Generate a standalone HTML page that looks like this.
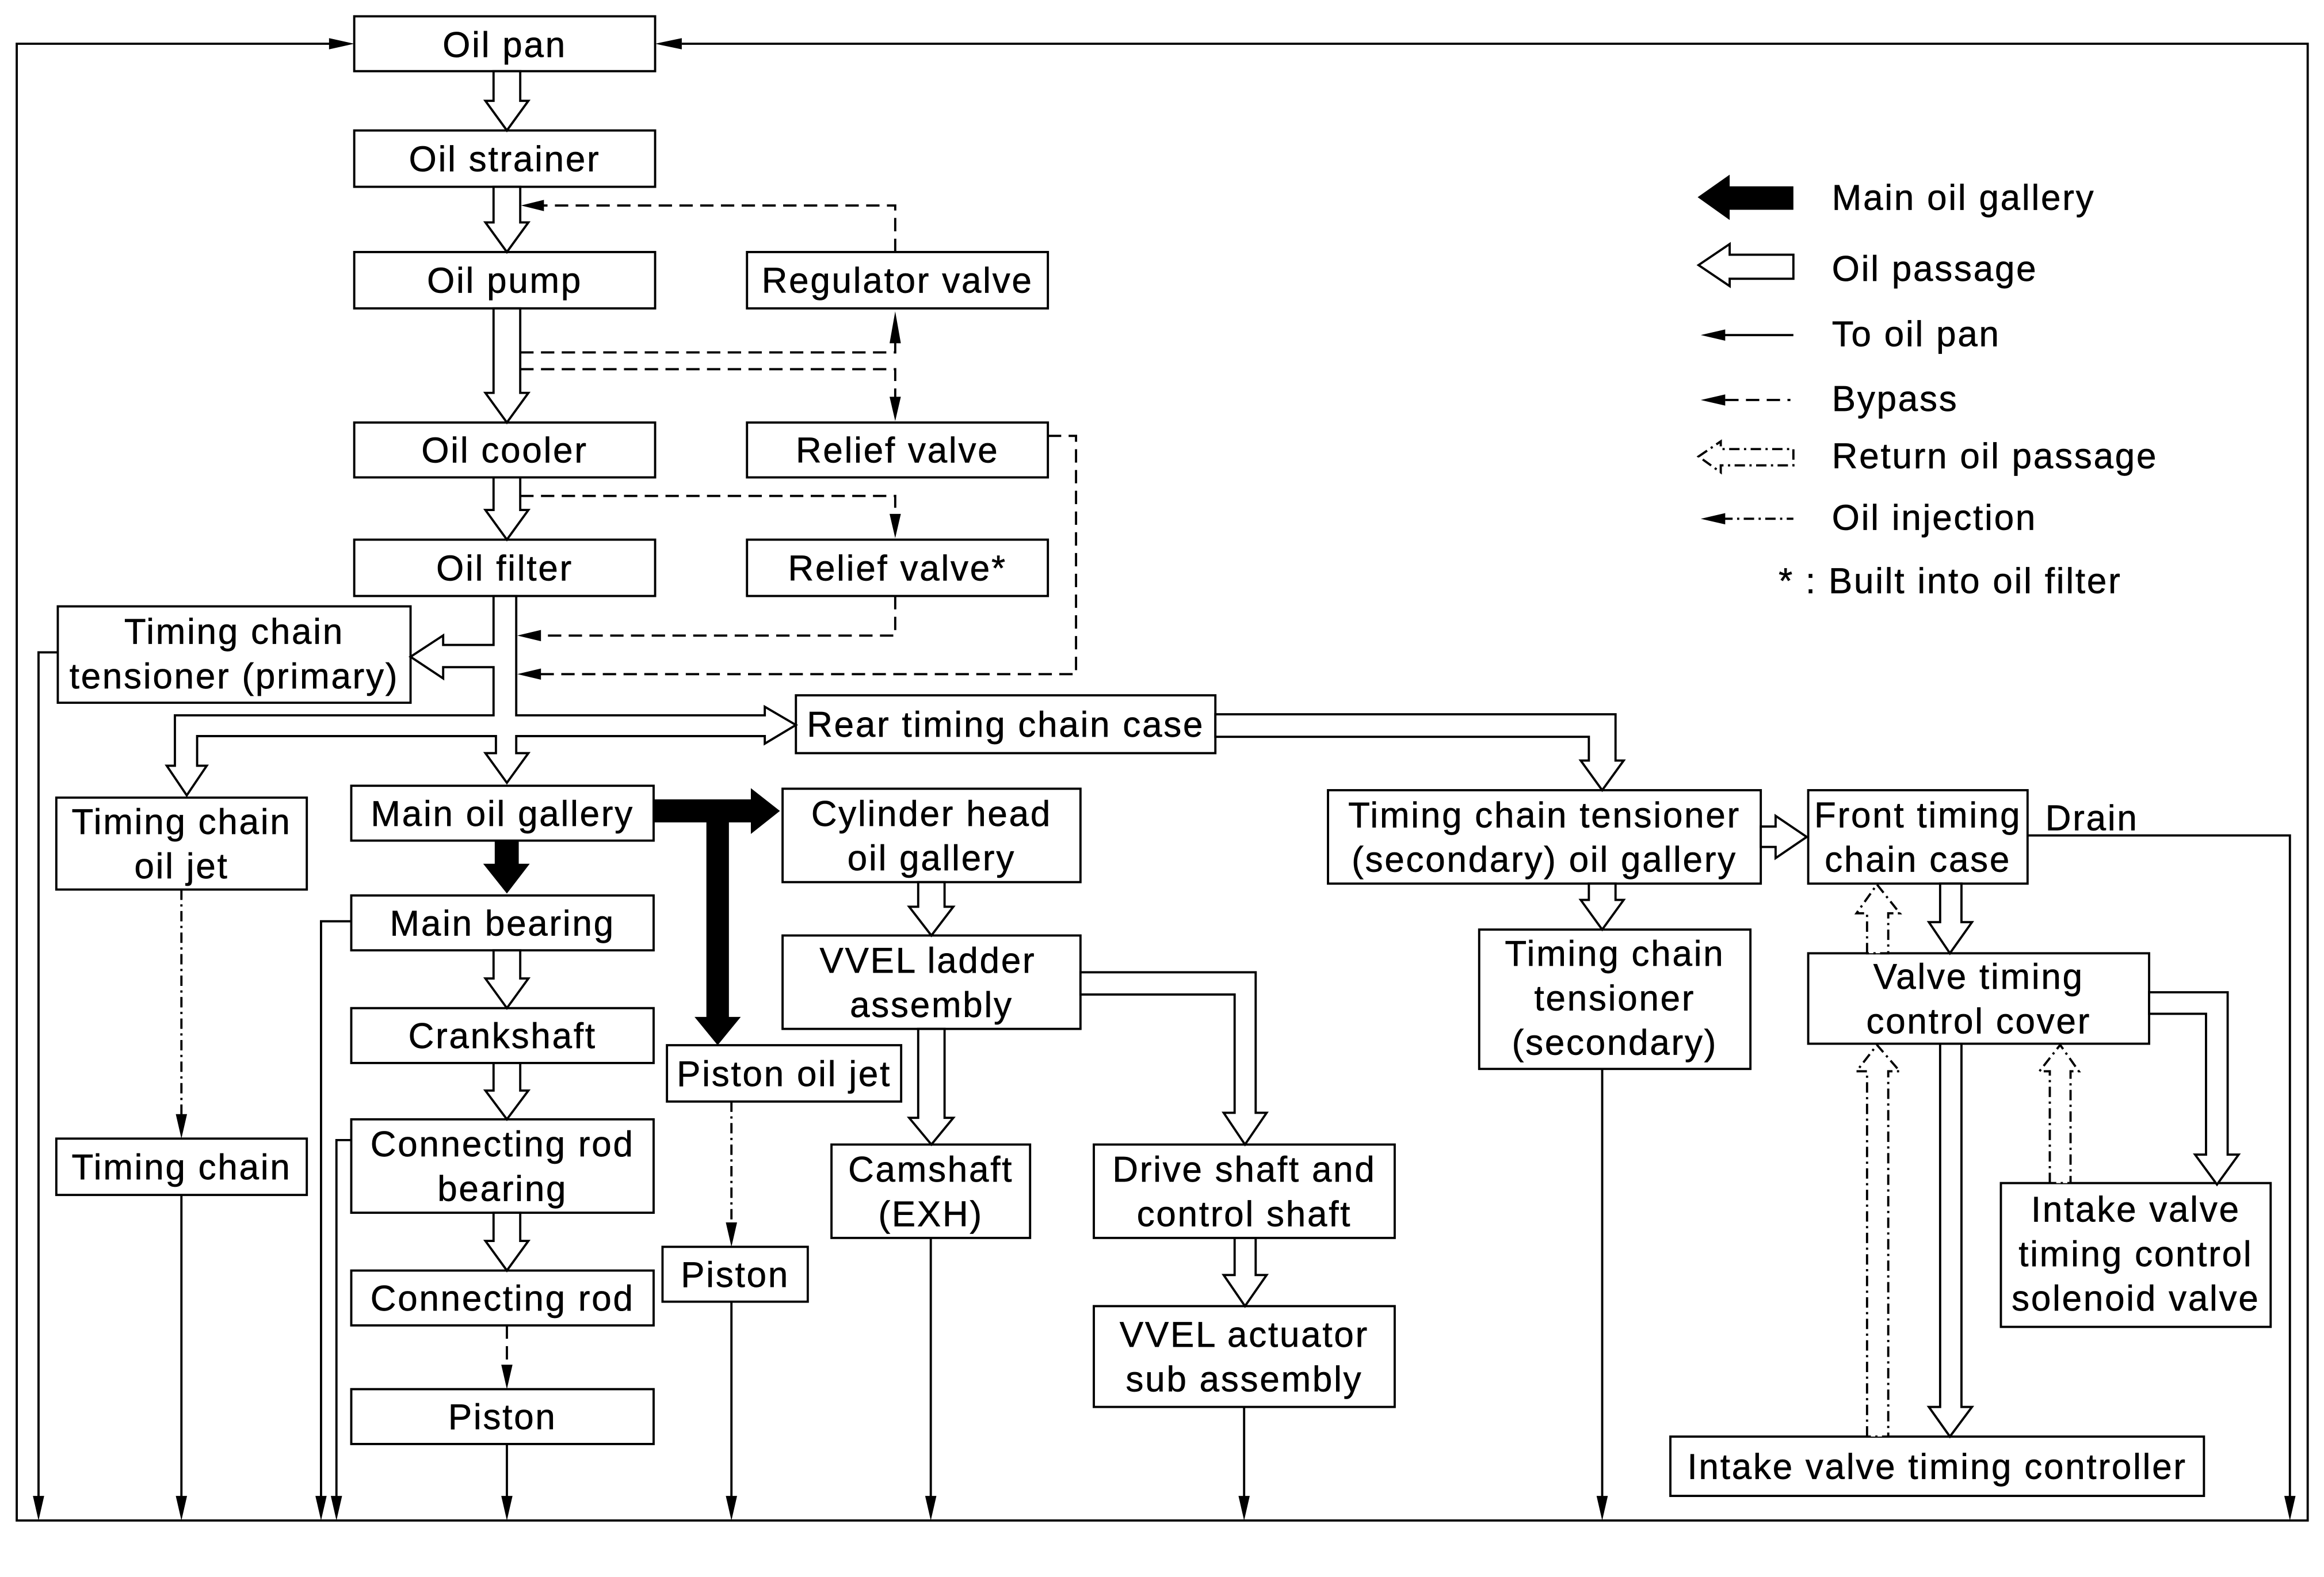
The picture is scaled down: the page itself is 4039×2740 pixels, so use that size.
<!DOCTYPE html>
<html><head><meta charset="utf-8"><style>
html,body{margin:0;padding:0;background:#fff;}
svg{display:block;}
text{font-family:"Liberation Sans",Arial,sans-serif;font-size:24px;letter-spacing:1.1px;fill:#000;stroke:#000;stroke-width:0.25;}
.b{fill:#fff;stroke:#000;stroke-width:1.5;}
.l{fill:none;stroke:#000;stroke-width:1.5;}
.d{fill:none;stroke:#000;stroke-width:1.5;stroke-dasharray:9 5;}
.dd{fill:none;stroke:#000;stroke-width:1.5;stroke-dasharray:7 3 1.5 3;}
.h{fill:#fff;stroke:#000;stroke-width:1.5;stroke-linejoin:miter;}
.r{fill:#fff;stroke:#000;stroke-width:1.5;stroke-dasharray:7 3 1.5 3;}
.k{fill:#000;stroke:none;}
</style></head><body>
<svg width="4039" height="2740" viewBox="0 0 1568 1063.7" xmlns="http://www.w3.org/2000/svg">
<rect x="0" y="0" width="1568" height="1064" fill="#fff"/>

<path class="l" d="M223,29.5 H11.3 V1025.6 H1557 V29.5 H460"/>
<polygon class="k" points="239,29.5 222,25.7 222,33.3"/>
<polygon class="k" points="442,29.5 460,25.7 460,33.3"/>

<rect class="b" x="239" y="11" width="203" height="37"/>
<rect class="b" x="239" y="88" width="203" height="38"/>
<rect class="b" x="239" y="170" width="203" height="38"/>
<rect class="b" x="504" y="170" width="203" height="38"/>
<rect class="b" x="239" y="285" width="203" height="37"/>
<rect class="b" x="504" y="285" width="203" height="37"/>
<rect class="b" x="239" y="364" width="203" height="38"/>
<rect class="b" x="504" y="364" width="203" height="38"/>
<rect class="b" x="39" y="409" width="238" height="65"/>
<rect class="b" x="537" y="469" width="283" height="39"/>
<rect class="b" x="38" y="538" width="169" height="62"/>
<rect class="b" x="237" y="530" width="204" height="37"/>
<rect class="b" x="528" y="532" width="201" height="63"/>
<rect class="b" x="237" y="604" width="204" height="37"/>
<rect class="b" x="528" y="631" width="201" height="63"/>
<rect class="b" x="237" y="680" width="204" height="37"/>
<rect class="b" x="450" y="705" width="158" height="38"/>
<rect class="b" x="237" y="755" width="204" height="63"/>
<rect class="b" x="38" y="768" width="169" height="38"/>
<rect class="b" x="561" y="772" width="134" height="63"/>
<rect class="b" x="738" y="772" width="203" height="63"/>
<rect class="b" x="237" y="857" width="204" height="37"/>
<rect class="b" x="447" y="841" width="98" height="37"/>
<rect class="b" x="738" y="881" width="203" height="68"/>
<rect class="b" x="237" y="937" width="204" height="37"/>
<rect class="b" x="896" y="533" width="292" height="63"/>
<rect class="b" x="1220" y="533" width="148" height="63"/>
<rect class="b" x="998" y="627" width="183" height="94"/>
<rect class="b" x="1220" y="643" width="230" height="61"/>
<rect class="b" x="1350" y="798" width="182" height="97"/>
<rect class="b" x="1127" y="969" width="360" height="40"/>

<polygon class="h" points="333,48 351,48 351,68 356.5,68 342,88 327.5,68 333,68"/>
<polygon class="h" points="333,126 351,126 351,150 356.5,150 342,170 327.5,150 333,150"/>
<polygon class="h" points="333,208 351,208 351,265 356.5,265 342,285 327.5,265 333,265"/>
<polygon class="h" points="333,322 351,322 351,344 356.5,344 342,364 327.5,344 333,344"/>
<polygon class="h" points="333,402 333,435 299,435 299,428.6 277,443 299,457.6 299,450 333,450 333,482.5 118,482.5 118,516.5 112.5,516.5 126,536.5 139.5,516.5 133,516.5 133,496.5 334.6,496.5 334.6,508 327.5,508 342,528 356.5,508 348.3,508 348.3,496.5 516,496.5 516,501.6 537,489 516,476.7 516,482.5 348.3,482.5 348.3,402"/>
<polygon class="h" points="333,641 351,641 351,660 356.5,660 342,680 327.5,660 333,660"/>
<polygon class="h" points="333,717 351,717 351,735.6 356.5,735.6 342,755 327.5,735.6 333,735.6"/>
<polygon class="h" points="333,818 351,818 351,837 356.5,837 342,857 327.5,837 333,837"/>

<polygon class="h" points="820,481.8 1090,481.8 1090,513 1095.5,513 1081,533 1066.5,513 1072,513 1072,497 820,497"/>
<polygon class="h" points="1188,557.5 1198,557.5 1198,550.3 1219,564.5 1198,578.8 1198,571.3 1188,571.3"/>
<polygon class="h" points="1072,596 1090,596 1090,607 1095.5,607 1081,627 1066.5,607 1072,607"/>
<polygon class="h" points="1309,596 1323.4,596 1323.4,622 1330.5,622 1315.6,643 1301.4,622 1309,622"/>
<polygon class="h" points="1309,704 1323.4,704 1323.4,949 1330.5,949 1315.6,969 1301.4,949 1309,949"/>
<polygon class="h" points="1450,669.3 1503,669.3 1503,778.8 1510.4,778.8 1495.8,799 1481,778.8 1488.4,778.8 1488.4,683.8 1450,683.8"/>

<polygon class="r" points="1259.7,643 1259.7,616 1252.6,616 1266.4,596.6 1281.8,616 1274,616 1274,643"/>
<polygon class="r" points="1259.7,969 1259.7,722.6 1252.6,722.6 1266.4,704.8 1281.8,722.6 1274,722.6 1274,969"/>
<polygon class="r" points="1383,798 1383,722.6 1376,722.6 1390,704.8 1402.6,722.6 1397,722.6 1397,798"/>

<polygon class="h" points="619.5,595 637.3,595 637.3,611.6 643.2,611.6 628.4,631 613.4,611.6 619.5,611.6"/>
<polygon class="h" points="619.5,694 637.3,694 637.3,754 643.2,754 628.4,772 613.4,754 619.5,754"/>
<polygon class="h" points="729,655.8 847.2,655.8 847.2,750.6 854.6,750.6 840,772 825.6,750.6 833,750.6 833,670.8 729,670.8"/>
<polygon class="h" points="833,835 847.2,835 847.2,860 854.6,860 840,881 825.6,860 833,860"/>

<polygon class="k" points="333.8,567 350,567 350,582.6 357.4,582.6 342,602.7 326,582.6 333.8,582.6"/>
<polygon class="k" points="441,539.2 506.6,539.2 506.6,531.6 526.2,547 506.6,562.5 506.6,554.7 491.8,554.7 491.8,685.9 499.8,685.9 484.2,705 468.6,685.9 476.6,685.9 476.6,554.7 441,554.7"/>

<path class="d" d="M604,170 V138.6 H366"/>
<polygon class="k" points="351.5,138.6 367,134.8 367,142.4"/>
<path class="d" d="M351,237.7 H604 V231"/>
<polygon class="k" points="604,210 600.2,231.5 607.8,231.5"/>
<path class="d" d="M351,249 H604 V268"/>
<polygon class="k" points="604,284 600.2,267.6 607.8,267.6"/>
<path class="d" d="M351,334.5 H604 V347"/>
<polygon class="k" points="604,363 600.2,346.6 607.8,346.6"/>
<path class="d" d="M604,402 V428.7 H364"/>
<polygon class="k" points="349,428.7 365,424.9 365,432.5"/>
<path class="d" d="M707,294 H726 V454.7 H364"/>
<polygon class="k" points="349,454.7 365,450.9 365,458.5"/>

<path class="l" d="M39,440 H26 V1010"/>
<polygon class="k" points="26,1025.6 22.2,1009 29.8,1009"/>
<path class="dd" d="M122.4,600 V752"/>
<polygon class="k" points="122.4,768 118.6,751.5 126.2,751.5"/>
<path class="l" d="M122.4,806 V1010"/>
<polygon class="k" points="122.4,1025.6 118.6,1009 126.2,1009"/>
<path class="l" d="M237,621.4 H216.6 V1010"/>
<polygon class="k" points="216.6,1025.6 212.8,1009 220.4,1009"/>
<path class="l" d="M237,769 H227 V1010"/>
<polygon class="k" points="227,1025.6 223.2,1009 230.8,1009"/>
<path class="d" d="M342,894 V921"/>
<polygon class="k" points="342,937 338.2,920.5 345.8,920.5"/>
<path class="l" d="M342,974 V1010"/>
<polygon class="k" points="342,1025.6 338.2,1009 345.8,1009"/>
<path class="dd" d="M493.5,743 V825"/>
<polygon class="k" points="493.5,841 489.7,824.5 497.3,824.5"/>
<path class="l" d="M493.5,878 V1010"/>
<polygon class="k" points="493.5,1025.6 489.7,1009 497.3,1009"/>
<path class="l" d="M628,835 V1010"/>
<polygon class="k" points="628,1025.6 624.2,1009 631.8,1009"/>
<path class="l" d="M839.4,949 V1010"/>
<polygon class="k" points="839.4,1025.6 835.6,1009 843.2,1009"/>
<path class="l" d="M1081,721 V1010"/>
<polygon class="k" points="1081,1025.6 1077.2,1009 1084.8,1009"/>
<path class="l" d="M1368,563.5 H1545 V1010"/>
<polygon class="k" points="1545,1025.6 1541.2,1009 1548.8,1009"/>

<polygon class="k" points="1145.4,133 1167,117.8 1167,125.7 1210,125.7 1210,141.5 1167,141.5 1167,148.4"/>
<polygon class="h" points="1146,178.8 1167,164.6 1167,171.8 1210,171.8 1210,188 1167,188 1167,193"/>
<path class="l" d="M1162,226 H1210"/>
<polygon class="k" points="1147.5,226 1164,222.2 1164,229.8"/>
<path class="d" d="M1164,269.8 H1208"/>
<polygon class="k" points="1147.5,269.8 1164,266 1164,273.6"/>
<polygon class="r" points="1146,307.9 1161,297.7 1161,302.9 1210,302.9 1210,313.9 1161,313.9 1161,318.6"/>
<path class="dd" d="M1162,349.9 H1210"/>
<polygon class="k" points="1147.5,349.9 1164,346.1 1164,353.7"/>
<text x="1236" y="141.5">Main oil gallery</text>
<text x="1236" y="189.5">Oil passage</text>
<text x="1236" y="233.6">To oil pan</text>
<text x="1236" y="277.2">Bypass</text>
<text x="1236" y="315.8">Return oil passage</text>
<text x="1236" y="357.4">Oil injection</text>
<text x="1200" y="400">* : Built into oil filter</text>

<g text-anchor="middle">
<text x="340.5" y="38.5">Oil pan</text>
<text x="340.5" y="115.5">Oil strainer</text>
<text x="340.5" y="197.5">Oil pump</text>
<text x="605.5" y="197.5">Regulator valve</text>
<text x="340.5" y="312">Oil cooler</text>
<text x="605.5" y="312">Relief valve</text>
<text x="340.5" y="391.5">Oil filter</text>
<text x="605.5" y="391.5">Relief valve*</text>
<text x="158" y="434.3">Timing chain</text>
<text x="158" y="464.4">tensioner (primary)</text>
<text x="678.5" y="497">Rear timing chain case</text>
<text x="122.5" y="562.5">Timing chain</text>
<text x="122.5" y="592.5">oil jet</text>
<text x="339" y="557">Main oil gallery</text>
<text x="628.5" y="557">Cylinder head</text>
<text x="628.5" y="587">oil gallery</text>
<text x="339" y="631">Main bearing</text>
<text x="626" y="656">VVEL ladder</text>
<text x="628.5" y="686">assembly</text>
<text x="339" y="707">Crankshaft</text>
<text x="529" y="732.5">Piston oil jet</text>
<text x="339" y="780">Connecting rod</text>
<text x="339" y="810">bearing</text>
<text x="122.5" y="795.5">Timing chain</text>
<text x="628" y="797">Camshaft</text>
<text x="628" y="827">(EXH)</text>
<text x="839.5" y="797">Drive shaft and</text>
<text x="839.5" y="827">control shaft</text>
<text x="496" y="868">Piston</text>
<text x="339" y="884">Connecting rod</text>
<text x="839.5" y="908.5">VVEL actuator</text>
<text x="839.5" y="938.5">sub assembly</text>
<text x="339" y="964">Piston</text>
<text x="1042" y="558">Timing chain tensioner</text>
<text x="1042" y="588">(secondary) oil gallery</text>
<text x="1294" y="558">Front timing</text>
<text x="1294" y="588">chain case</text>
<text x="1089.5" y="651.5">Timing chain</text>
<text x="1089.5" y="681.5">tensioner</text>
<text x="1089.5" y="711.5">(secondary)</text>
<text x="1335" y="667">Valve timing</text>
<text x="1335" y="697">control cover</text>
<text x="1441" y="824">Intake valve</text>
<text x="1441" y="854">timing control</text>
<text x="1441" y="884">solenoid valve</text>
<text x="1307" y="997.5">Intake valve timing controller</text>
</g>
<text x="1380" y="560">Drain</text>
</svg>
</body></html>
